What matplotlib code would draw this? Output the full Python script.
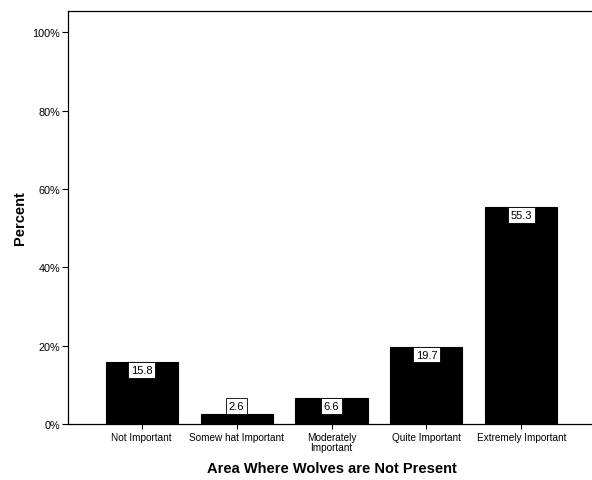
import matplotlib
matplotlib.use("Agg")
import matplotlib.pyplot as plt

categories = ["Not Important", "Somew hat Important", "Moderately\nImportant",
              "Quite Important", "Extremely Important"]
percents = [15.8, 2.6, 6.6, 19.7, 55.3]
yticks = [0, 20, 40, 60, 80, 100]

plt.rcParams['font.family'] = ['Liberation Sans', 'DejaVu Sans']

fig = plt.figure(figsize=(5.92, 4.81), dpi=100)
ax = fig.add_axes([68 / 592, 56 / 481, 527 / 592, 413 / 481])

xs = range(len(categories))
ax.bar(xs, percents, width=0.76, color='black', edgecolor='black', linewidth=0.8)

# value labels: inside the bar top, or above it when the bar is too short
for x, v in zip(xs, percents):
    if v < 5:
        ax.annotate(f"{v:.1f}", (x, v), xytext=(0, 2), textcoords='offset points',
                    ha='center', va='bottom', fontsize=8,
                    bbox=dict(boxstyle='square,pad=0.25', facecolor='white',
                              edgecolor='black', linewidth=0.6))
    else:
        ax.annotate(f"{v:.1f}", (x, v), xytext=(0, -2), textcoords='offset points',
                    ha='center', va='top', fontsize=8,
                    bbox=dict(boxstyle='square,pad=0.25', facecolor='white',
                              edgecolor='black', linewidth=0.6))

ax.set_xlim(-0.776, len(categories) - 1 + 0.776)
ax.set_ylim(0, 105.4)
ax.set_yticks(yticks)
ax.set_yticklabels([f"{t}%" for t in yticks], fontsize=7.8)
ax.set_xticks(list(xs))
ax.set_xticklabels(categories, fontsize=7.2, linespacing=1.1)
ax.tick_params(axis='y', length=4.5, width=0.8, pad=1)
ax.tick_params(axis='x', length=3.5, width=0.8, pad=2)

for s in ax.spines.values():
    s.set_linewidth(0.9)

ax.set_xlabel("Area Where Wolves are Not Present", fontsize=10.5, fontweight='bold', labelpad=6)
ax.set_ylabel("Percent", fontsize=10.5, fontweight='bold', labelpad=4)

fig.savefig("out.png", dpi=100)
